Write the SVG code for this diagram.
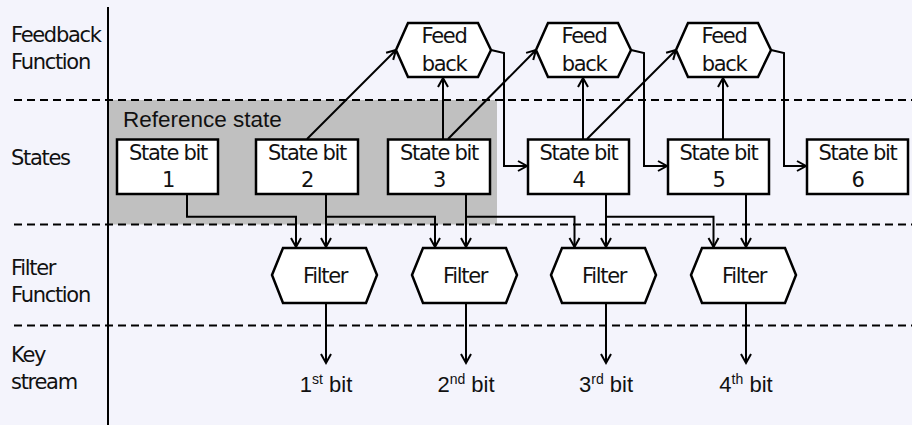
<svg xmlns="http://www.w3.org/2000/svg" width="912" height="425" viewBox="0 0 912 425">
<defs>
<marker id="ah" markerWidth="12" markerHeight="12" refX="9" refY="5" orient="auto" markerUnits="userSpaceOnUse" overflow="visible">
<path d="M0,0 L9,5 L0,10" fill="none" stroke="#000" stroke-width="2"/>
</marker>
<style>
.lbl{font-family:"DejaVu Sans",Verdana,sans-serif;font-size:21px;letter-spacing:-1.3px;fill:#111}
.ar{font-family:"Liberation Sans",Arial,sans-serif;fill:#111}
.box{fill:#fff;stroke:#000;stroke-width:2.5}
.hex{fill:#fff;stroke:#000;stroke-width:2.5;stroke-linejoin:miter}
.dash{stroke:#000;stroke-width:2;stroke-dasharray:8 5;fill:none}
.c{fill:none;stroke:#000;stroke-width:2;marker-end:url(#ah)}
.mid{text-anchor:middle}
</style>
</defs>
<rect x="0" y="0" width="912" height="425" fill="#F4F4FC"/>
<rect x="108" y="100" width="389" height="124.5" fill="#C0C0C0"/>
<g id="grid">
<line x1="108" y1="7" x2="108" y2="425" stroke="#000" stroke-width="2"/>
<line class="dash" x1="14" y1="100" x2="912" y2="100"/>
<line class="dash" x1="14" y1="224.5" x2="912" y2="224.5"/>
<line class="dash" x1="14" y1="325.5" x2="912" y2="325.5"/>
</g>
<g id="row-labels">
<text class="lbl" x="11" y="42">Feedback</text>
<text class="lbl" x="11" y="69">Function</text>
<text class="lbl" x="11" y="165">States</text>
<text class="lbl" x="11" y="275">Filter</text>
<text class="lbl" x="11" y="302">Function</text>
<text class="lbl" x="11" y="362">Key</text>
<text class="lbl" x="11" y="389">stream</text>
</g>
<text id="ref-label" class="ar" x="123" y="127" font-size="22.5">Reference state</text>
<g id="connectors">
<polyline class="c" points="491,50 504,53 504,166 527,166"/>
<polyline class="c" points="631,50 644,53 644,166 667,166"/>
<polyline class="c" points="771,50 784,53 784,166 806,166"/>
<line class="c" x1="307" y1="139" x2="396" y2="50"/>
<line class="c" x1="448" y1="139" x2="536" y2="50"/>
<line class="c" x1="587" y1="139" x2="676" y2="50"/>
<line class="c" x1="443" y1="139" x2="443" y2="78"/>
<line class="c" x1="583" y1="139" x2="583" y2="78"/>
<line class="c" x1="723" y1="139" x2="723" y2="78"/>
<polyline class="c" points="187,194 187,216.7 296,216.7 296,247"/>
<line class="c" x1="326" y1="194" x2="326" y2="247"/>
<polyline class="c" points="326,216.7 435,216.7 435,247"/>
<line class="c" x1="466" y1="194" x2="466" y2="247"/>
<polyline class="c" points="466,216.7 574.5,216.7 574.5,247"/>
<line class="c" x1="606" y1="194" x2="606" y2="247"/>
<polyline class="c" points="606,216.7 713.5,216.7 713.5,247"/>
<line class="c" x1="746" y1="194" x2="746" y2="247"/>
<line class="c" x1="326" y1="303" x2="326" y2="363"/>
<line class="c" x1="466" y1="303" x2="466" y2="363"/>
<line class="c" x1="606" y1="303" x2="606" y2="363"/>
<line class="c" x1="746" y1="303" x2="746" y2="363"/>
</g>
<g id="fb1"><polygon class="hex" points="396,50 408,23 478,23 491,50 478,77 408,77"/><text class="lbl mid" x="444" y="43">Feed</text><text class="lbl mid" x="444" y="71">back</text></g>
<g id="fb2"><polygon class="hex" points="536,50 548,23 618,23 631,50 618,77 548,77"/><text class="lbl mid" x="584" y="43">Feed</text><text class="lbl mid" x="584" y="71">back</text></g>
<g id="fb3"><polygon class="hex" points="676,50 688,23 758,23 771,50 758,77 688,77"/><text class="lbl mid" x="724" y="43">Feed</text><text class="lbl mid" x="724" y="71">back</text></g>
<g id="s1"><rect class="box" x="117" y="139.5" width="101" height="54.5"/><text class="lbl mid" x="168" y="160">State bit</text><text class="lbl mid" x="168" y="187">1</text></g>
<g id="s2"><rect class="box" x="256" y="139.5" width="102" height="54.5"/><text class="lbl mid" x="307" y="160">State bit</text><text class="lbl mid" x="307" y="187">2</text></g>
<g id="s3"><rect class="box" x="388" y="139.5" width="102" height="54.5"/><text class="lbl mid" x="439" y="160">State bit</text><text class="lbl mid" x="439" y="187">3</text></g>
<g id="s4"><rect class="box" x="528" y="139.5" width="101" height="54.5"/><text class="lbl mid" x="578.5" y="160">State bit</text><text class="lbl mid" x="578.5" y="187">4</text></g>
<g id="s5"><rect class="box" x="668" y="139.5" width="101" height="54.5"/><text class="lbl mid" x="718.5" y="160">State bit</text><text class="lbl mid" x="718.5" y="187">5</text></g>
<g id="s6"><rect class="box" x="807" y="139.5" width="101" height="54.5"/><text class="lbl mid" x="857.5" y="160">State bit</text><text class="lbl mid" x="857.5" y="187">6</text></g>
<g id="f1"><polygon class="hex" points="272,275 283,248 366,248 377,275 366,303 283,303"/><text class="lbl mid" x="325" y="283">Filter</text></g>
<g id="f2"><polygon class="hex" points="412,275 423,248 506,248 517,275 506,303 423,303"/><text class="lbl mid" x="465" y="283">Filter</text></g>
<g id="f3"><polygon class="hex" points="551,275 562,248 645,248 656,275 645,303 562,303"/><text class="lbl mid" x="604" y="283">Filter</text></g>
<g id="f4"><polygon class="hex" points="691,275 702,248 785,248 796,275 785,303 702,303"/><text class="lbl mid" x="744" y="283">Filter</text></g>
<g id="outputs" class="ar" font-size="22">
<text class="mid" x="326" y="392">1<tspan font-size="14" dy="-8">st</tspan><tspan dy="8"> bit</tspan></text>
<text class="mid" x="466" y="392">2<tspan font-size="14" dy="-8">nd</tspan><tspan dy="8"> bit</tspan></text>
<text class="mid" x="606" y="392">3<tspan font-size="14" dy="-8">rd</tspan><tspan dy="8"> bit</tspan></text>
<text class="mid" x="746" y="392">4<tspan font-size="14" dy="-8">th</tspan><tspan dy="8"> bit</tspan></text>
</g>
</svg>
